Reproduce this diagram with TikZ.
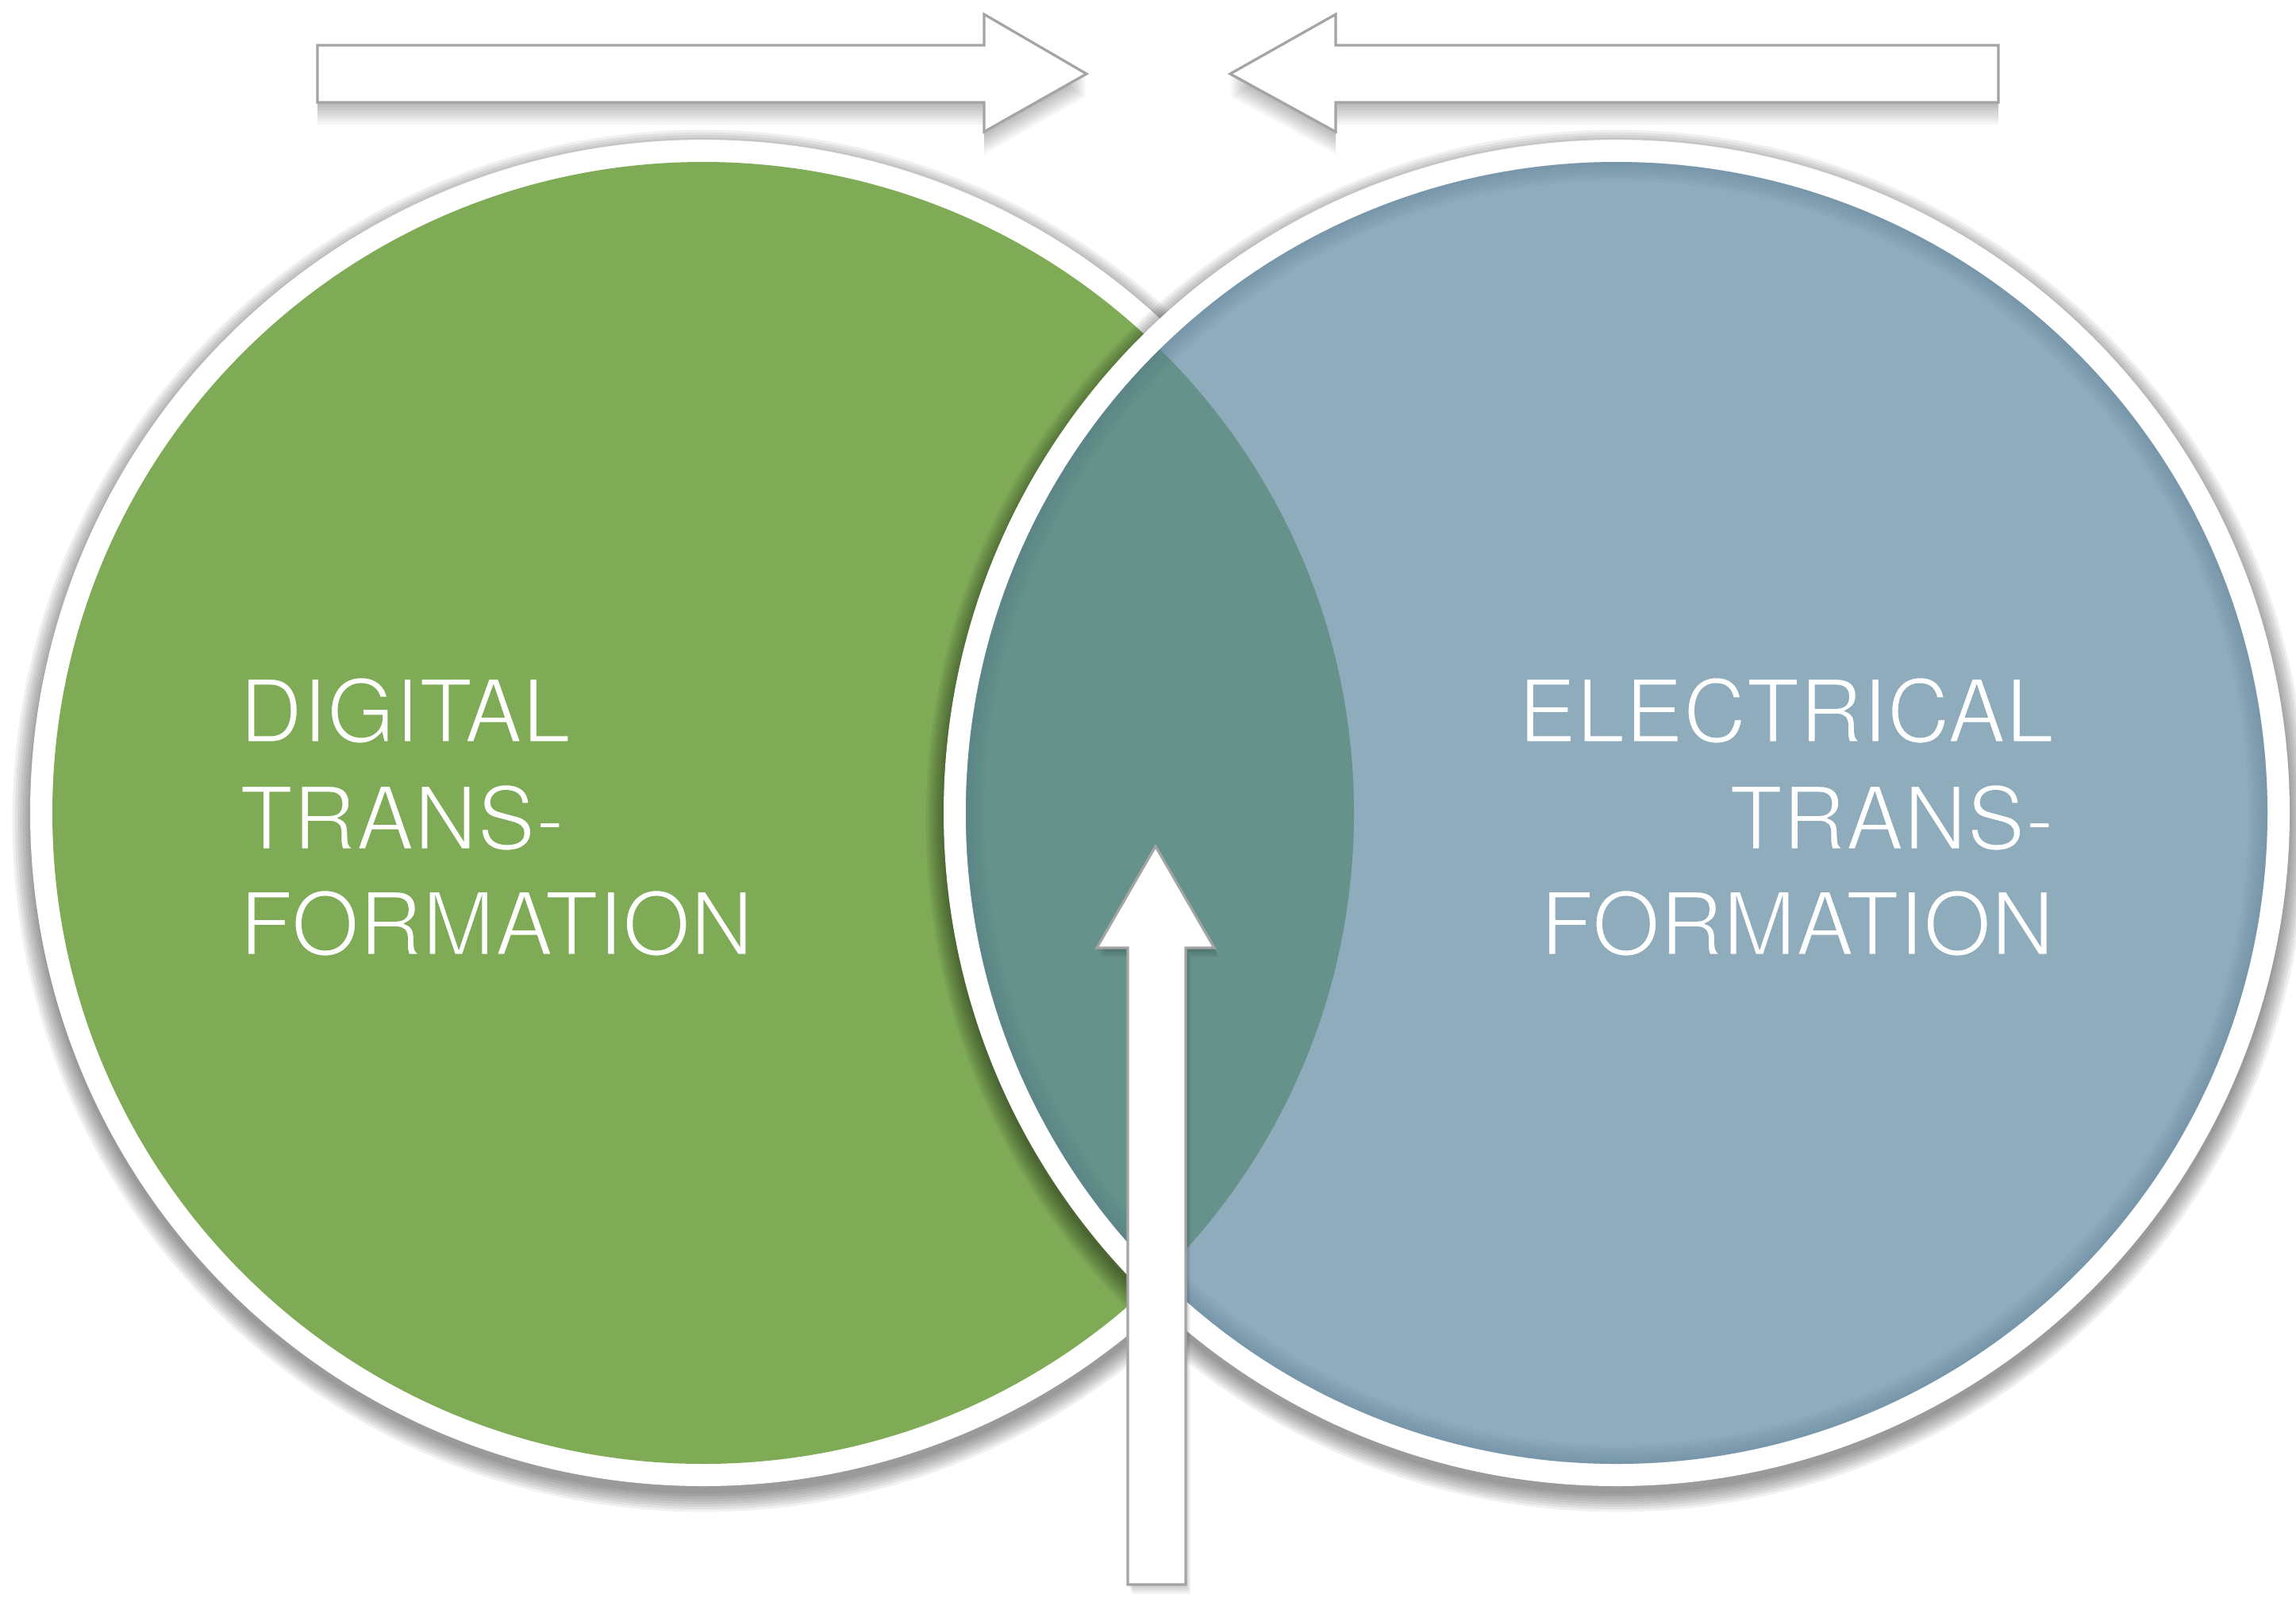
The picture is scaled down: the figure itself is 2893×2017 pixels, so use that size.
\documentclass[tikz,border=0pt]{standalone}
\usepackage{fontspec}
\setmainfont{TeX Gyre Heros}
\definecolor{dgreen}{HTML}{7FAB57}
\definecolor{eblue}{HTML}{8FACBD}
\definecolor{olap}{HTML}{65928A}
\definecolor{arrline}{HTML}{A4A4A4}
\definecolor{rimblue}{HTML}{4E7087}
\newcommand\pthL{(400,57) -- (1240,57) -- (1240,18) -- (1369,93) -- (1240,166) -- (1240,129) -- (400,129) -- cycle}
\newcommand\pthR{(2518,57) -- (1683,57) -- (1683,18) -- (1550,93) -- (1683,166) -- (1683,129) -- (2518,129) -- cycle}
\newcommand\pthU{(1421,1996) -- (1421,1194) -- (1382,1194) -- (1456,1066) -- (1530,1194) -- (1494,1194) -- (1494,1996) -- cycle}
% thin the glyphs by stroking them with the background colour
\newcommand\thinG[1]{\special{pdf:literal direct 2 Tr 0.7 w 0.498 0.671 0.341 RG}#1\special{pdf:literal direct 0 Tr}}
\newcommand\thinB[1]{\special{pdf:literal direct 2 Tr 0.7 w 0.561 0.675 0.741 RG}#1\special{pdf:literal direct 0 Tr}}
\tikzset{
  lbl/.style={text=white, font=\fontsize{27.5}{33}\selectfont, inner sep=0pt},
  shadowfill/.style={fill=black, opacity=0.06},
  arrowbody/.style={fill=white, draw=arrline, line width=0.8pt, line join=miter},
  ringfill/.style={fill=white}
}
\begin{document}
\begin{tikzpicture}[x=0.25pt,y=-0.25pt]
\useasboundingbox[fill=white] (0,0) rectangle (2893,2017);
\coordinate (gc) at (886,1024);
\coordinate (bc) at (2037,1024);
% top arrows shadows
\foreach \i in {1,...,8}{
  \fill[black, opacity=0.035, shift={(0,\i*3.5)}] \pthL;
  \fill[black, opacity=0.035, shift={(0,\i*3.5)}] \pthR;
}
\draw[arrowbody] \pthL;
\draw[arrowbody] \pthR;
% green circle
\foreach \i in {0,...,7}{
  \fill[shadowfill] (886,1034) circle [radius=212pt+\i*0.8pt];
}
\fill[ringfill] (gc) circle [radius=212pt];
\fill[dgreen] (gc) circle [radius=205pt];
% blue circle
\foreach \i in {0,...,7}{
  \fill[shadowfill] (2037,1034) circle [radius=212pt+\i*0.8pt];
}
\fill[ringfill] (bc) circle [radius=212pt];
\fill[eblue] (bc) circle [radius=205pt];
% overlap
\begin{scope}
  \clip (gc) circle [radius=205pt];
  \fill[olap] (bc) circle [radius=205pt];
\end{scope}
% inner rim of blue circle
\begin{scope}
  \clip (bc) circle [radius=205pt];
  \foreach \w in {2,4,...,12}{
    \draw[rimblue, opacity=0.06, line width=\w pt] (bc) circle [radius=205pt];
  }
\end{scope}
% labels
\node[lbl, anchor=base west] (d1) at (301,935) {\thinG{DIGITAL}};
\node[lbl, anchor=base west] (d2) at (301,1070) {\thinG{TRANS-}};
\node[lbl, anchor=base west] (d3) at (301,1203) {\thinG{FORMATION}};
\node[lbl, anchor=base east] (e1) at (2589,935) {\thinB{ELECTRICAL}};
\node[lbl, anchor=base east] (e2) at (2589,1070) {\thinB{TRANS-}};
\node[lbl, anchor=base east] (e3) at (2589,1203) {\thinB{FORMATION}};
% up arrow
\foreach \i in {1,...,6}{
  \fill[black, opacity=0.035, shift={(\i*1,\i*2)}] \pthU;
}
\draw[arrowbody] \pthU;
\end{tikzpicture}
\end{document}
